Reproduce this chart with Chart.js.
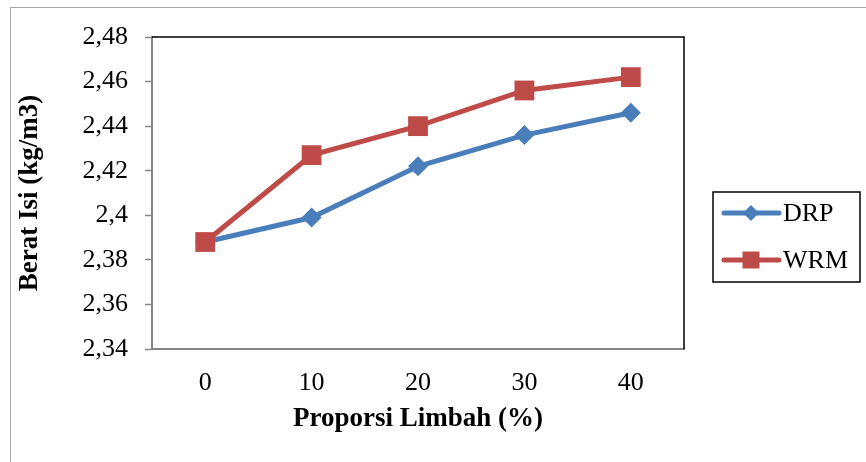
<!DOCTYPE html>
<html>
<head>
<meta charset="utf-8">
<script src="https://cdn.jsdelivr.net/npm/chart.js@4.4.1/dist/chart.umd.min.js"></script>
<style>
  html, body { margin: 0; padding: 0; background: #fff; }
  canvas { display: block; }
</style>
</head>
<body>
<canvas id="chart" width="866" height="462"></canvas>
<script>
const categories = ["0", "10", "20", "30", "40"];
const drpValues = [2.388, 2.399, 2.422, 2.436, 2.446];
const wrmValues = [2.388, 2.427, 2.440, 2.456, 2.462];
const seriesNames = ["DRP", "WRM"];

const BLUE = "#4a7ebb";
const RED = "#be4b48";
const FONT = "'Liberation Serif', 'Times New Roman', serif";

// outer frame + plot border (top/right) + legend box
const framePlugin = {
  id: "frame",
  beforeDraw(chart) {
    const ctx = chart.ctx;
    ctx.save();
    ctx.strokeStyle = "#a6a6a6";
    ctx.lineWidth = 1;
    ctx.strokeRect(10.5, 7.5, 900, 500);
    ctx.restore();
  },
  afterDraw(chart) {
    const ctx = chart.ctx;
    const a = chart.chartArea;
    ctx.save();
    ctx.strokeStyle = "#000";
    ctx.lineWidth = 1.5;
    ctx.beginPath();
    ctx.moveTo(a.left, a.top);
    ctx.lineTo(a.right, a.top);
    ctx.lineTo(a.right, a.bottom);
    ctx.stroke();

    // legend
    ctx.strokeRect(713, 192, 147, 90);
    const items = [
      { name: seriesNames[0], color: BLUE, style: "rectRot", r: 8, y: 213 },
      { name: seriesNames[1], color: RED, style: "rect", r: 12, y: 260 }
    ];
    ctx.font = "26px " + FONT;
    ctx.textBaseline = "middle";
    items.forEach((it) => {
      ctx.strokeStyle = it.color;
      ctx.lineWidth = 5;
      ctx.lineCap = "round";
      ctx.beginPath();
      ctx.moveTo(724, it.y);
      ctx.lineTo(779, it.y);
      ctx.stroke();
      ctx.fillStyle = it.color;
      Chart.helpers.drawPoint(ctx, { pointStyle: it.style, radius: it.r, borderWidth: 0 }, 751, it.y);
      ctx.fillStyle = "#000";
      ctx.fillText(it.name, 783, it.y + 1);
    });
    ctx.restore();
  }
};

const fmt = (v) => Number(v.toFixed(2)).toString().replace(".", ",");

new Chart(document.getElementById("chart"), {
  type: "line",
  data: {
    labels: categories,
    datasets: [
      {
        label: seriesNames[0],
        data: drpValues,
        borderColor: BLUE,
        backgroundColor: BLUE,
        borderWidth: 5,
        pointStyle: "rectRot",
        pointRadius: 10,
        pointBorderWidth: 0,
        order: 1
      },
      {
        label: seriesNames[1],
        data: wrmValues,
        borderColor: RED,
        backgroundColor: RED,
        borderWidth: 5,
        pointStyle: "rect",
        pointRadius: 14,
        pointBorderWidth: 0,
        order: 0
      }
    ]
  },
  options: {
    responsive: false,
    animation: false,
    devicePixelRatio: 1,
    layout: { padding: { top: 37, right: 182, left: 0, bottom: 0 } },
    plugins: {
      legend: { display: false },
      tooltip: { enabled: false }
    },
    scales: {
      x: {
        offset: true,
        afterFit: (scale) => { scale.height = 113; },
        grid: { display: true, drawOnChartArea: false, drawTicks: false },
        border: { color: "#868686", width: 2 },
        ticks: { color: "#000", font: { family: FONT, size: 26 }, padding: 19 },
        title: {
          display: true,
          text: "Proporsi Limbah (%)",
          color: "#000",
          font: { family: FONT, size: 27, weight: "bold" },
          padding: { top: 0, bottom: 27 }
        }
      },
      y: {
        min: 2.34,
        max: 2.48,
        afterFit: (scale) => { scale.width = 152; },
        grid: { drawOnChartArea: false, drawTicks: true, tickLength: 7, tickColor: "#868686", tickWidth: 1.5 },
        border: { color: "#868686", width: 2 },
        ticks: {
          stepSize: 0.02,
          color: "#000",
          font: { family: FONT, size: 26 },
          padding: 17,
          callback: (v) => fmt(v)
        },
        title: {
          display: true,
          text: "Berat Isi (kg/m3)",
          color: "#000",
          font: { family: FONT, size: 27, weight: "bold" },
          padding: { top: 14, bottom: 0 }
        }
      }
    }
  },
  plugins: [framePlugin]
});
</script>
</body>
</html>
